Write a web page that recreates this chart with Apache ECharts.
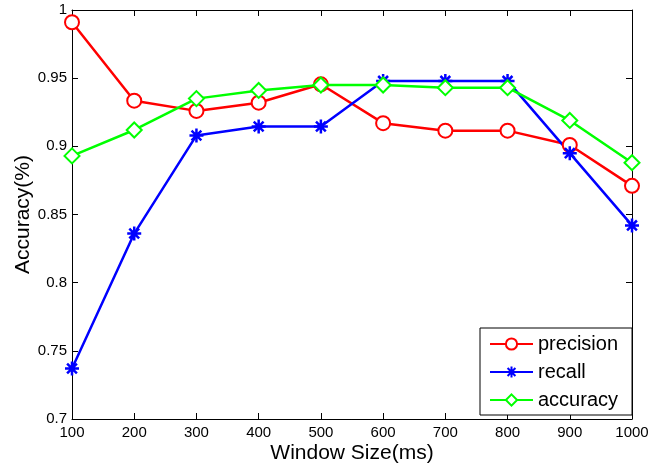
<!DOCTYPE html>
<html>
<head>
<meta charset="utf-8">
<script src="https://cdn.jsdelivr.net/npm/echarts@6/dist/echarts.min.js"></script>
<style>
html, body { margin: 0; padding: 0; background: #fff; }
#chart { width: 649px; height: 466px; }
</style>
</head>
<body>
<div id="chart"></div>
<script>
// window sizes (ms)
var windowSizes = [100, 200, 300, 400, 500, 600, 700, 800, 900, 1000];

// values
var precision = [0.991, 0.9335, 0.926, 0.932, 0.9455, 0.917, 0.9115, 0.9115, 0.901, 0.871];
var recall    = [0.737, 0.836, 0.908, 0.9145, 0.9145, 0.948, 0.948, 0.948, 0.895, 0.842];
var accuracy  = [0.893, 0.912, 0.935, 0.941, 0.945, 0.945, 0.943, 0.943, 0.919, 0.888];

var fontFam = 'Liberation Sans, Arial, Helvetica, sans-serif';

// matlab-like asterisk marker
var asterisk = 'path://M0,-10L0,10M-10,0L10,0M-7,-7L7,7M-7,7L7,-7';

function pairs(xs, ys) {
    var out = [];
    for (var i = 0; i < xs.length; i++) {
        out.push([xs[i], ys[i]]);
    }
    return out;
}

function makeSeries(name, values, color, symbol, size) {
    return {
        name: name,
        type: 'line',
        data: pairs(windowSizes, values),
        symbol: symbol,
        symbolSize: size,
        showAllSymbol: true,
        lineStyle: { color: color, width: 2.5 },
        itemStyle: { color: color, borderColor: color, borderWidth: 2.5 },
        emphasis: { disabled: true }
    };
}

var chart = echarts.init(document.getElementById('chart'));

var axisLine = { show: true, lineStyle: { color: '#000', width: 1 } };
var axisTick = { show: true, inside: true, length: 6, lineStyle: { color: '#000' } };

chart.setOption({
    animation: false,
    backgroundColor: '#fff',
    textStyle: { fontFamily: fontFam },
    grid: { left: 72, right: 17, top: 10, bottom: 47, containLabel: false, outerBoundsMode: 'none' },
    legend: {
        orient: 'vertical',
        left: 480,
        top: 328,
        backgroundColor: '#fff',
        borderColor: '#000',
        borderWidth: 1,
        padding: [6, 14, 5, 9],
        itemWidth: 43,
        itemHeight: 14,
        itemGap: 8,
        textStyle: { fontSize: 20, color: '#000', fontFamily: fontFam },
        data: ['precision', 'recall', 'accuracy']
    },
    xAxis: [{
        type: 'value',
        min: 100,
        max: 1000,
        interval: 100,
        name: 'Window Size(ms)',
        nameLocation: 'middle',
        nameGap: 24,
        nameMoveOverlap: false,
        nameTextStyle: { fontSize: 21, color: '#000' },
        axisLine: axisLine,
        axisTick: axisTick,
        splitLine: { show: false },
        axisLabel: {
            color: '#000',
            fontSize: 15,
            margin: 6,
            formatter: function (v) { return String(v); }
        }
    }, {
        type: 'value',
        position: 'top',
        min: 100,
        max: 1000,
        interval: 100,
        axisLine: axisLine,
        axisTick: axisTick,
        splitLine: { show: false },
        axisLabel: { show: false }
    }],
    yAxis: [{
        type: 'value',
        min: 0.7,
        max: 1,
        interval: 0.05,
        name: 'Accuracy(%)',
        nameLocation: 'middle',
        nameGap: 38,
        nameMoveOverlap: false,
        nameTextStyle: { fontSize: 21, color: '#000' },
        axisLine: axisLine,
        axisTick: axisTick,
        splitLine: { show: false },
        axisLabel: { color: '#000', fontSize: 15, margin: 5 }
    }, {
        type: 'value',
        position: 'right',
        min: 0.7,
        max: 1,
        interval: 0.05,
        axisLine: axisLine,
        axisTick: axisTick,
        splitLine: { show: false },
        axisLabel: { show: false }
    }],
    series: [
        makeSeries('precision', precision, '#ff0000', 'emptyCircle', 14),
        makeSeries('recall', recall, '#0000ff', asterisk, 14),
        makeSeries('accuracy', accuracy, '#00ff00', 'emptyDiamond', 15)
    ]
});
</script>
</body>
</html>
